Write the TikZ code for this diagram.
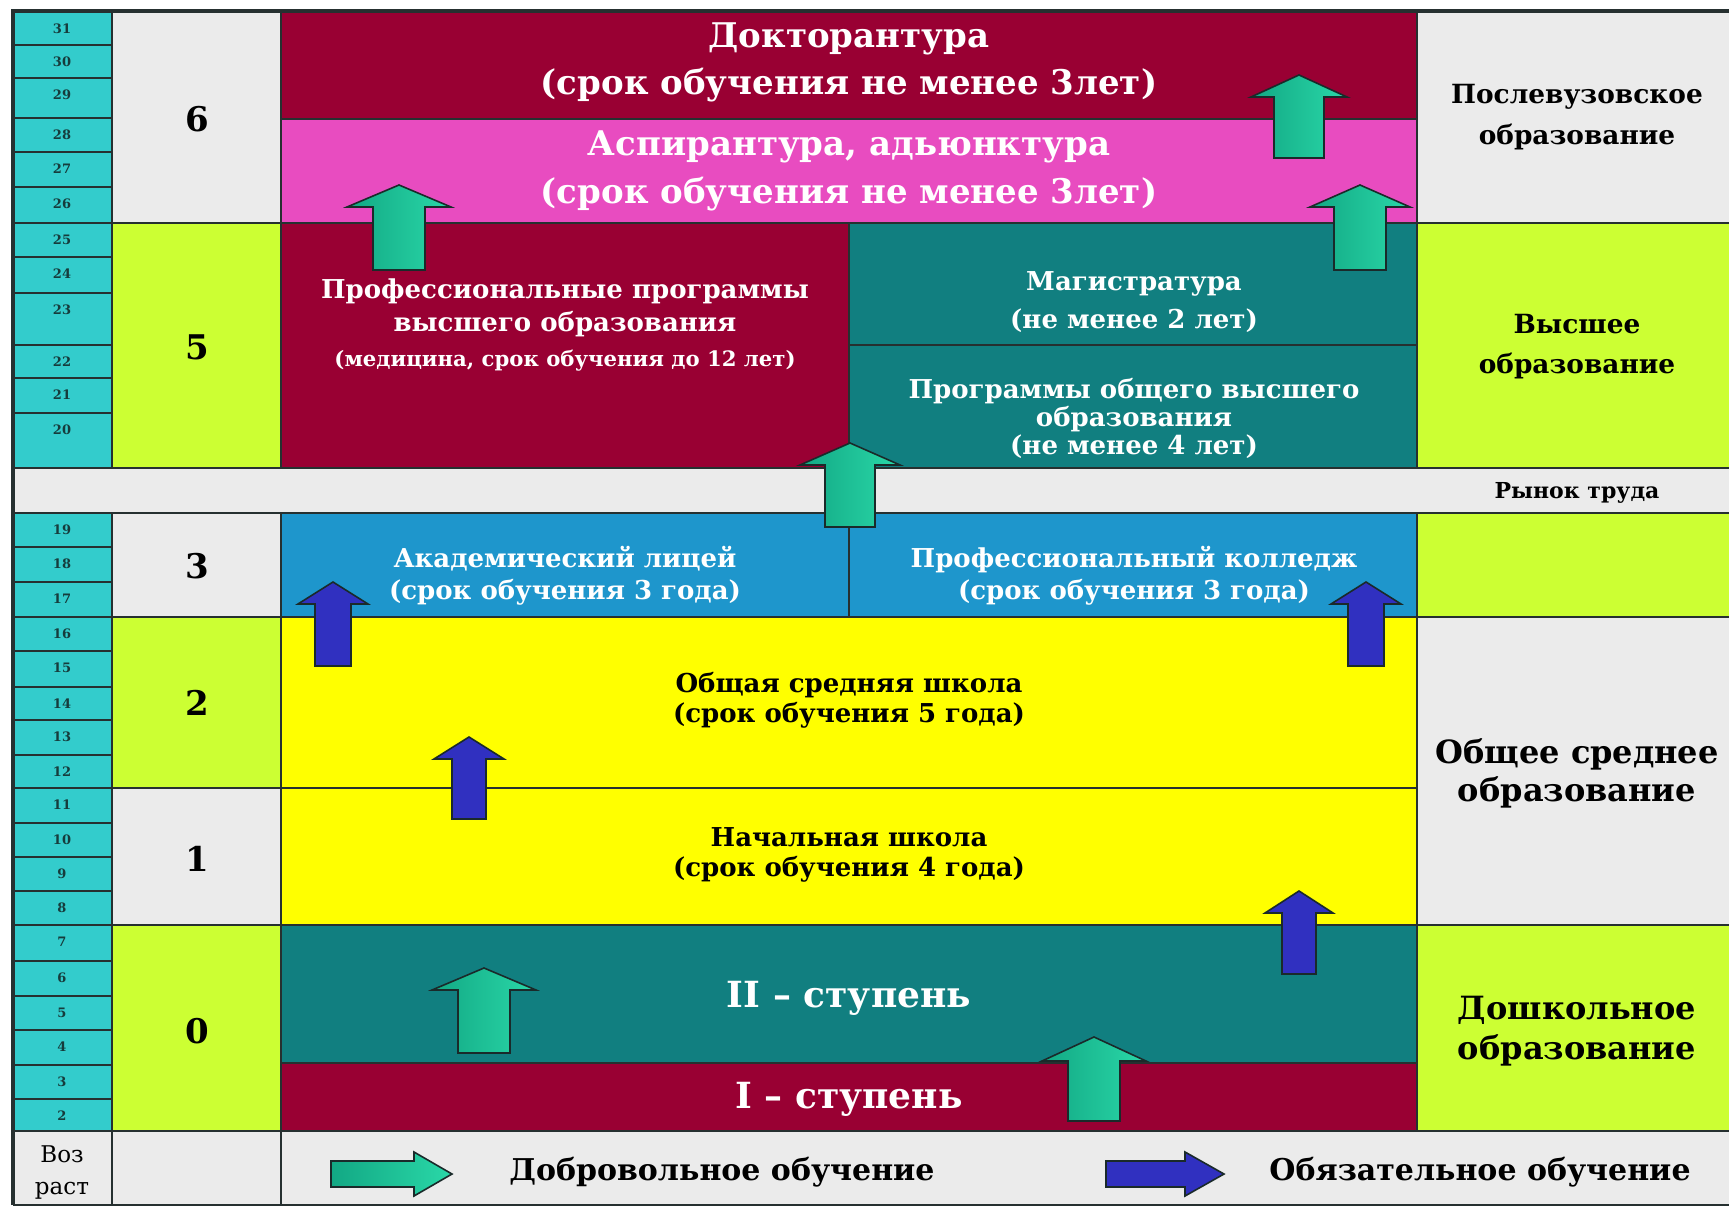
\documentclass[tikz,border=0pt]{standalone}
\usepackage{fontspec}
\setmainfont{DejaVu Serif}
\definecolor{agec}{HTML}{33CCCC}
\definecolor{grayc}{HTML}{EBEBEB}
\definecolor{limec}{HTML}{CCFF33}
\definecolor{wine}{HTML}{990033}
\definecolor{pinkc}{HTML}{E84CC0}
\definecolor{tealc}{HTML}{117F80}
\definecolor{bluec}{HTML}{1E96CC}
\definecolor{yelc}{HTML}{FFFF00}
\definecolor{linec}{HTML}{263030}
\definecolor{agetxt}{HTML}{163C3C}
\definecolor{garrL}{HTML}{12A884}
\definecolor{garrR}{HTML}{2AD8A8}
\definecolor{barr}{HTML}{3030C0}
\definecolor{arrline}{HTML}{1A2A2A}
\newcommand{\fs}[2]{\fontsize{#1}{#2}\selectfont}
% up arrow: #1 style, #2 cx, #3 tip y, #4 head base y, #5 bottom y, #6 head half, #7 shaft half
\newcommand{\uparr}[7]{\path[#1] (#2,#3) -- (#2+#6,#4) -- (#2+#7,#4) -- (#2+#7,#5) -- (#2-#7,#5) -- (#2-#7,#4) -- (#2-#6,#4) -- cycle;}
% right arrow: #1 style, #2 left x, #3 head base x, #4 tip x, #5 cy, #6 head half, #7 shaft half
\newcommand{\rarr}[7]{\path[#1] (#2,#5-#7) -- (#3,#5-#7) -- (#3,#5-#6) -- (#4,#5) -- (#3,#5+#6) -- (#3,#5+#7) -- (#2,#5+#7) -- cycle;}
\begin{document}
\begin{tikzpicture}[x=0.5pt,y=-0.5pt,
  cellline/.style={draw=linec,line width=1pt},
  garrow/.style={left color=garrL,right color=garrR,draw=arrline,line width=0.8pt},
  barrow/.style={fill=barr,draw=arrline,line width=0.8pt},
  txt/.style={inner sep=0pt,align=center,font=\bfseries},
  wtxt/.style={txt,text=white},
  agelab/.style={inner sep=0pt,font=\bfseries\fs{6.5}{7},text=agetxt},
  lvl/.style={inner sep=0pt,font=\bfseries\fs{17}{20}}]
\useasboundingbox (0,0) rectangle (1729,1208);
\fill[white] (0,0) rectangle (1729,1208);
% ---------- fills ----------
% level column
\fill[grayc] (112,12) rectangle (281,223);
\fill[limec] (112,223) rectangle (281,468);
\fill[grayc] (13,468) rectangle (1729,513);
\fill[grayc] (112,513) rectangle (281,617);
\fill[limec] (112,617) rectangle (281,788);
\fill[grayc] (112,788) rectangle (281,925);
\fill[limec] (112,925) rectangle (281,1131);
\fill[grayc] (13,1131) rectangle (1729,1205);
% right column
\fill[grayc] (1417,12) rectangle (1729,223);
\fill[limec] (1417,223) rectangle (1729,468);
\fill[limec] (1417,513) rectangle (1729,617);
\fill[grayc] (1417,617) rectangle (1729,925);
\fill[limec] (1417,925) rectangle (1729,1131);
% main
\fill[wine] (281,12) rectangle (1417,119);
\fill[pinkc] (281,119) rectangle (1417,223);
\fill[wine] (281,223) rectangle (849,468);
\fill[tealc] (849,223) rectangle (1417,468);
\fill[bluec] (281,513) rectangle (1417,617);
\fill[yelc] (281,617) rectangle (1417,925);
\fill[tealc] (281,925) rectangle (1417,1063);
\fill[wine] (281,1063) rectangle (1417,1131);
% ---------- age column ----------
\foreach \a/\b/\n in {12/45/31,45/78/30,78/118/29,118/152/28,152/187/27,187/223/26,223/257/25,257/293/24,293/345/23,345/378/22,378/413/21,413/468/20,513/547/19,547/582/18,582/617/17,617/651/16,651/687/15,687/720/14,720/755/13,755/788/12,788/823/11,823/857/10,857/891/9,891/925/8,925/961/7,961/996/6,996/1030/5,1030/1065/4,1065/1099/3,1099/1131/2}{
  \path[fill=agec,cellline] (13,\a) rectangle (112,\b);
  \node[agelab] (age\n) at (62,\a+17) {\n};
}
% ---------- lines ----------
\draw[cellline] (112,12) rectangle (281,223);
\draw[cellline] (112,223) rectangle (281,468);
\draw[cellline] (112,513) rectangle (281,617);
\draw[cellline] (112,617) rectangle (281,788);
\draw[cellline] (112,788) rectangle (281,925);
\draw[cellline] (112,925) rectangle (281,1131);
\draw[cellline] (13,468) -- (1729,468) (13,513) -- (1729,513);
\draw[cellline] (13,1131) -- (1729,1131) (112,1131) -- (112,1205) (281,1131) -- (281,1205);
\draw[cellline] (13,1205) -- (1729,1205);
\draw[cellline] (281,119) -- (1417,119) (281,223) -- (1729,223);
\draw[cellline] (849,223) -- (849,468) (849,513) -- (849,617);
\draw[cellline] (849,345) -- (1417,345);
\draw[cellline] (281,617) -- (1729,617) (281,788) -- (1417,788);
\draw[cellline] (281,925) -- (1729,925) (281,1063) -- (1417,1063);
\draw[cellline] (1417,12) -- (1417,468) (1417,513) -- (1417,1131);
\draw[linec,line width=1.6pt] (13,1205) -- (13,11) -- (1729,11);
% ---------- arrows ----------
\uparr{garrow}{1299}{75}{97}{158}{48}{25}
\uparr{garrow}{399}{185}{207}{270}{52}{26}
\uparr{garrow}{1360}{185}{207}{270}{50}{26}
\uparr{garrow}{850}{443}{465}{527}{50}{25}
\uparr{garrow}{484}{968}{990}{1053}{52}{26}
\uparr{garrow}{1094}{1037}{1061}{1121}{52}{26}
\uparr{barrow}{333}{582}{604}{666}{35}{18}
\uparr{barrow}{1366}{582}{604}{666}{35}{18}
\uparr{barrow}{469}{737}{759}{819}{35}{17}
\uparr{barrow}{1299}{891}{913}{974}{34}{17}
\rarr{garrow}{331}{414}{452}{1174}{22}{13}
\rarr{barrow}{1106}{1185}{1224}{1174}{22}{13}
% ---------- texts ----------
\node[wtxt,font=\bfseries\fs{17}{23.5}] (dokt) at (849,62) {Докторантура\\(срок обучения не менее 3лет)};
\node[wtxt,font=\bfseries\fs{17}{24}] (asp) at (849,171) {Аспирантура, адьюнктура\\(срок обучения не менее 3лет)};
\node[wtxt,font=\bfseries\fs{13}{16.5}] (prof) at (565,308) {Профессиональные программы\\высшего образования};
\node[wtxt,font=\bfseries\fs{10.6}{12}] (profsub) at (565,361) {(медицина, срок обучения до 12 лет)};
\node[wtxt,font=\bfseries\fs{13}{19}] (mag) at (1134,302) {Магистратура\\(не менее 2 лет)};
\node[wtxt,font=\bfseries\fs{13}{11.5}] (obv) at (1134,405) {Программы общего высшего\\образования};
\node[wtxt,font=\bfseries\fs{13}{15}] (obvsub) at (1134,447) {(не менее 4 лет)};
\node[txt,font=\bfseries\fs{11}{13}] (rynok) at (1577,493) {Рынок труда};
\node[wtxt,font=\bfseries\fs{13}{16}] (lic) at (565,576) {Академический лицей\\(срок обучения 3 года)};
\node[wtxt,font=\bfseries\fs{13}{16}] (kol) at (1134,576) {Профессиональный колледж\\(срок обучения 3 года)};
\node[txt,font=\bfseries\fs{13}{15}] (obsh) at (849,700) {Общая средняя школа\\(срок обучения 5 года)};
\node[txt,font=\bfseries\fs{13}{15}] (nach) at (849,855) {Начальная школа\\(срок обучения 4 года)};
\node[wtxt,font=\bfseries\fs{18}{22}] (st2) at (849,998) {II – ступень};
\node[wtxt,font=\bfseries\fs{18}{22}] (st1) at (849,1099) {I – ступень};
\node[txt,font=\bfseries\fs{13.2}{20.5}] (posl) at (1577,117) {Послевузовское\\образование};
\node[txt,font=\bfseries\fs{13.2}{20}] (vys) at (1577,347) {Высшее\\образование};
\node[txt,font=\bfseries\fs{16}{19}] (obsr) at (1577,773) {Общее среднее\\образование};
\node[txt,font=\bfseries\fs{16}{20}] (dosh) at (1577,1031) {Дошкольное\\образование};
\node[txt,font=\bfseries\fs{15}{18}] (leg1) at (722,1172) {Добровольное обучение};
\node[txt,font=\bfseries\fs{15}{18}] (leg2) at (1480,1172) {Обязательное обучение};
\node[inner sep=0pt,align=center,font=\fs{11.5}{16}] (vozr) at (62,1172) {Воз\\раст};
\node[lvl] (l6) at (197,119) {6};
\node[lvl] (l5) at (197,347) {5};
\node[lvl] (l3) at (197,566) {3};
\node[lvl] (l2) at (197,703) {2};
\node[lvl] (l1) at (197,859) {1};
\node[lvl] (l0) at (197,1031) {0};
\end{tikzpicture}
\end{document}
